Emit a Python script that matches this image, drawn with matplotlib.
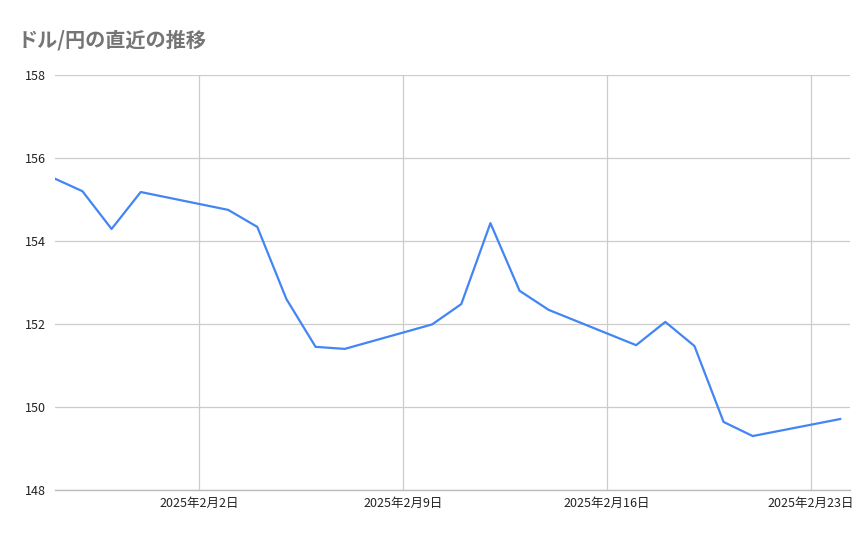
import matplotlib
matplotlib.use("Agg")
import matplotlib.pyplot as plt
import matplotlib.dates as mdates
import pandas as pd

plt.rcParams['font.family'] = ['Noto Sans CJK JP', 'DejaVu Sans']

dates = ["2025-01-28", "2025-01-29", "2025-01-30", "2025-01-31",
         "2025-02-03", "2025-02-04", "2025-02-05", "2025-02-06", "2025-02-07",
         "2025-02-10", "2025-02-11", "2025-02-12", "2025-02-13", "2025-02-14",
         "2025-02-17", "2025-02-18", "2025-02-19", "2025-02-20", "2025-02-21",
         "2025-02-24"]
usdjpy = [155.52, 155.20, 154.29, 155.18,
          154.75, 154.34, 152.60, 151.45, 151.40,
          151.99, 152.48, 154.43, 152.80, 152.34,
          151.49, 152.05, 151.47, 149.64, 149.30,
          149.71]
tick_dates = ["2025-02-02", "2025-02-09", "2025-02-16", "2025-02-23"]
tick_labels = ["2025年2月2日", "2025年2月9日", "2025年2月16日", "2025年2月23日"]
y_ticks = [148, 150, 152, 154, 156, 158]
title = "ドル/円の直近の推移"

x = pd.to_datetime(dates)
xt = pd.to_datetime(tick_dates)

fig = plt.figure(figsize=(8.67, 5.37), dpi=100)
ax = fig.add_axes([55/867, (537-490)/537, (850-55)/867, (490-75)/537])

ax.plot(x, usdjpy, color='#4285F4', linewidth=1.6, solid_joinstyle='round')

ax.set_ylim(148, 158)
ax.set_yticks(y_ticks)
ax.set_yticklabels([str(v) for v in y_ticks])
xref = mdates.date2num(xt[0])
pxday = (811 - 199) / 21
ax.set_xlim(xref - (199 - 55) / pxday, xref + (850 - 199) / pxday)
ax.set_xticks(mdates.date2num(xt))
ax.set_xticklabels(tick_labels)

ax.grid(True, color='#cccccc', linewidth=0.9)
ax.set_axisbelow(True)
for s in ['top', 'right', 'left']:
    ax.spines[s].set_visible(False)
ax.spines['bottom'].set_color('#bbbbbb')
ax.spines['bottom'].set_linewidth(1.0)
ax.tick_params(axis='both', length=0, labelsize=9, colors='#222222')
ax.tick_params(axis='y', pad=6.5)
ax.tick_params(axis='x', pad=5)

fig.text(18/867, 1 - 40/537, title, fontsize=14.5, color='#757575',
         fontweight='bold', va='center', ha='left')

fig.savefig('out.png', dpi=100)
